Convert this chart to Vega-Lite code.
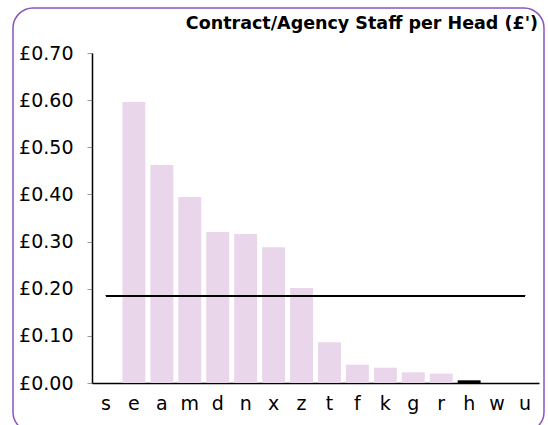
{
  "$schema": "https://vega.github.io/schema/vega-lite/v6.json",
  "width": 531,
  "height": 424,
  "autosize": {"type": "none"},
  "padding": {"left": 13, "top": 8, "right": 4, "bottom": -7},
  "background": "white",
  "config": {
    "view": {"stroke": "#8a55c0", "strokeWidth": 1.5, "cornerRadius": 20, "fill": "white"},
    "font": "DejaVu Sans"
  },
  "title": {
    "text": "Contract/Agency Staff per Head (£')",
    "anchor": "end",
    "frame": "group",
    "orient": "top",
    "offset": -23,
    "baseline": "alphabetic",
    "dx": -6,
    "dy": 15,
    "fontSize": 17.5,
    "fontWeight": "bold",
    "color": "black",
    "font": "DejaVu Sans"
  },
  "data": {
    "values": [
      {"cat": "s", "value": 0},
      {"cat": "e", "value": 0.596},
      {"cat": "a", "value": 0.4625},
      {"cat": "m", "value": 0.3946},
      {"cat": "d", "value": 0.3203},
      {"cat": "n", "value": 0.316},
      {"cat": "x", "value": 0.288},
      {"cat": "z", "value": 0.2015},
      {"cat": "t", "value": 0.0863},
      {"cat": "f", "value": 0.0389},
      {"cat": "k", "value": 0.0325},
      {"cat": "g", "value": 0.0227},
      {"cat": "r", "value": 0.0198},
      {"cat": "h", "value": 0.0057},
      {"cat": "w", "value": 0},
      {"cat": "u", "value": 0}
    ]
  },
  "layer": [
    {
      "mark": {"type": "bar"},
      "encoding": {
        "x": {
          "field": "cat",
          "type": "nominal",
          "sort": null,
          "scale": {"range": [79, 526], "paddingInner": 0.18, "paddingOuter": 0.09},
          "axis": {
            "orient": "bottom",
            "offset": -49,
            "ticks": false,
            "labelPadding": 11,
            "labelFontSize": 19,
            "labelAngle": 0,
            "labelColor": "black",
            "domainColor": "black",
            "domainWidth": 1.5,
            "title": null
          }
        },
        "y": {
          "field": "value",
          "type": "quantitative",
          "scale": {"domain": [0, 0.7], "range": [375, 45], "nice": false},
          "axis": {
            "orient": "left",
            "offset": -79,
            "values": [0, 0.1, 0.2, 0.3, 0.4, 0.5, 0.6, 0.7],
            "labelExpr": "'£' + format(datum.value, '.2f')",
            "tickColor": "#999999",
            "tickSize": 5,
            "domainColor": "black",
            "domainWidth": 1.5,
            "labelFontSize": 19,
            "labelColor": "black",
            "labelPadding": 14,
            "grid": false,
            "title": null
          }
        },
        "color": {
          "condition": {"test": "datum.cat === 'h'", "value": "black"},
          "value": "#e9d6ea"
        }
      }
    },
    {
      "mark": {"type": "rule", "color": "black", "strokeWidth": 1.8},
      "encoding": {
        "x": {"datum": "s"},
        "x2": {"datum": "u"},
        "y": {"datum": 0.185}
      }
    }
  ]
}
